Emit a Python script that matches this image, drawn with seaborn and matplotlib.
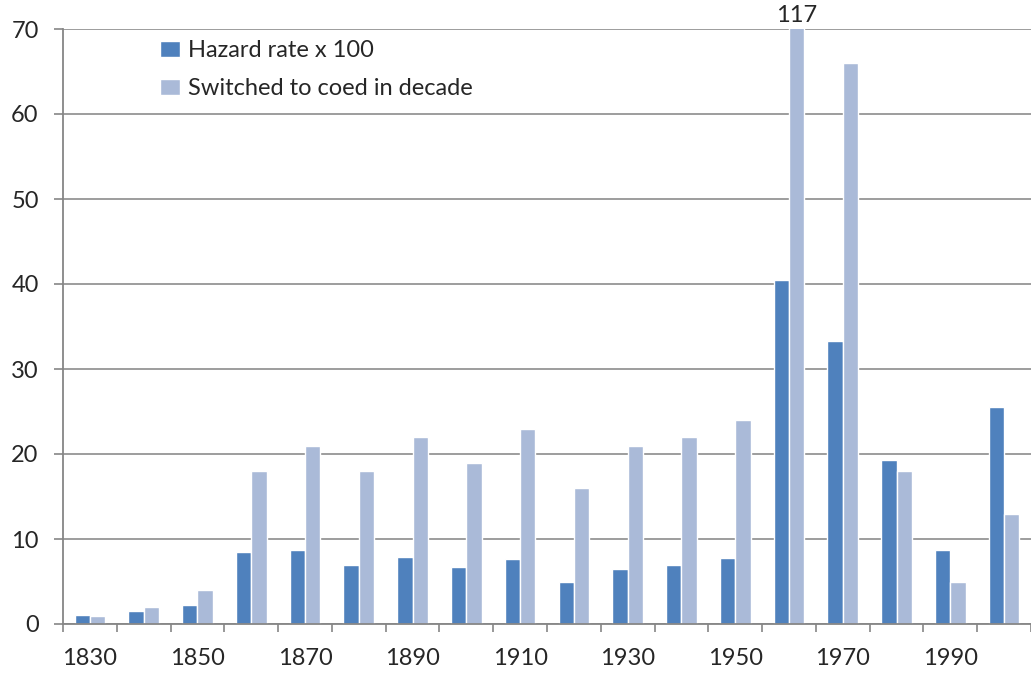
import matplotlib
matplotlib.use("Agg")
import matplotlib.pyplot as plt
import seaborn as sns
import pandas as pd
import numpy as np

# data
decades = [1830, 1840, 1850, 1860, 1870, 1880, 1890, 1900, 1910,
           1920, 1930, 1940, 1950, 1960, 1970, 1980, 1990, 2000]
hazard = [1.1, 1.5, 2.2, 8.5, 8.7, 6.9, 7.9, 6.7, 7.6,
          4.9, 6.5, 7.0, 7.8, 40.5, 33.3, 19.3, 8.7, 25.5]
switched = [1, 2, 4, 18, 21, 18, 22, 19, 23,
            16, 21, 22, 24, 117, 66, 18, 5, 13]
series_names = ["Hazard rate x 100", "Switched to coed in decade"]
colors = ["#4F81BD", "#AABAD8"]

df = pd.DataFrame({
    "decade": [str(d) for d in decades] * 2,
    "value": hazard + switched,
    "series": [series_names[0]] * len(decades) + [series_names[1]] * len(decades),
})

sns.set_style("white")
plt.rcParams["font.family"] = ["Lato", "DejaVu Sans"]
fs = 17

fig = plt.figure(figsize=(10.31, 6.74), dpi=100)
ax = fig.add_axes([63 / 1031, 50 / 674, 968 / 1031, 595 / 674])

sns.barplot(data=df, x="decade", y="value", hue="series", palette=colors,
            width=0.57, saturation=1, ax=ax)

ax.set_ylim(0, 70)
ax.set_xlim(-0.5, len(decades) - 0.5)
ax.set_xlabel("")
ax.set_ylabel("")

# y axis
ax.set_yticks(range(0, 71, 10))
ax.yaxis.grid(True, color="#8C8C8C", linewidth=1.2)
ax.set_axisbelow(True)
ax.tick_params(axis="y", direction="out", length=6.5, width=1.2, color="#868686",
               labelsize=fs, pad=11, left=True)

# x axis: labels every other decade, tick marks on category boundaries
ax.set_xticks(range(0, len(decades), 2))
ax.set_xticklabels([str(d) for d in decades[::2]])
ax.set_xticks(np.arange(-0.5, len(decades), 1), minor=True)
ax.tick_params(axis="x", which="major", length=0, labelsize=fs, pad=17)
ax.tick_params(axis="x", which="minor", direction="out", length=5.5, width=1.2,
               color="#868686", bottom=True)

for side in ["top", "right"]:
    ax.spines[side].set_visible(False)
for side in ["left", "bottom"]:
    ax.spines[side].set_color("#868686")
    ax.spines[side].set_linewidth(1.3)

# label for the clipped bar
i = decades.index(1960)
ax.text(i + 0.57 / 4, 70.3, str(switched[i]), ha="center", va="bottom",
        fontsize=fs, clip_on=False)

leg = ax.legend(loc="upper left", bbox_to_anchor=(0.083, 1.009), frameon=False,
                fontsize=fs, handlelength=0.85, handleheight=0.7,
                handletextpad=0.35, labelspacing=0.72, borderpad=0.2)

fig.savefig("out.png", dpi=100)
